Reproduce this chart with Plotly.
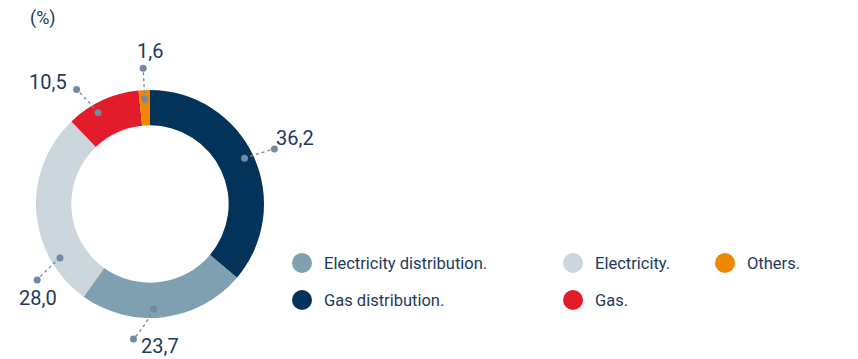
import math
import plotly.graph_objects as go

# ---- data ----
categories = ["Gas distribution.", "Electricity distribution.", "Electricity.", "Gas.", "Others."]
values = [36.2, 23.7, 28.0, 10.5, 1.6]
value_labels = ["36,2", "23,7", "28,0", "10,5", "1,6"]
legend_order = ["Electricity distribution.", "Gas distribution.", "Electricity.", "Gas.", "Others."]

# ---- style ----
colors = {
    "Gas distribution.": "#04335a",
    "Electricity distribution.": "#7fa0b1",
    "Electricity.": "#cbd6dd",
    "Gas.": "#e21c2a",
    "Others.": "#ef8700",
}
W, H = 858, 359
CX, CY, R = 150, 204, 114
HOLE = 0.69
TEXT = "#1d3a5c"
LEADER = "#7189a2"
# angular tweak (deg) of leader per slice, radius inner/outer, text offsets from outer dot
ang_off = [-1, 5, -27, -5, 0]
ang_off2 = [1, 14, -30, -8, 0]
r_in, r_out = 105, 136
text_off = [(21, -11), (27, 7), (1, 18), (-29, -8), (7, -17)]

fig = go.Figure()

fig.add_trace(go.Pie(
    labels=categories, values=values, sort=False, direction="clockwise", rotation=0,
    hole=HOLE, textinfo="none", hoverinfo="label+value", showlegend=False,
    marker=dict(colors=[colors[c] for c in categories], line=dict(width=0)),
    domain=dict(x=[(CX - R) / W, (CX + R) / W], y=[1 - (CY + R) / H, 1 - (CY - R) / H]),
))

total = sum(values)
cum = 0
DOT = 3.5
for i, v in enumerate(values):
    mid = (cum + v / 2) / total * 360
    cum += v
    a1 = math.radians(mid + ang_off[i])
    a2 = math.radians(mid + ang_off2[i])
    pts = []
    n = 12
    for k in range(n + 1):
        t = k / n
        r = r_in + (r_out - r_in) * t
        a = a1 + (a2 - a1) * t
        pts.append((CX + r * math.sin(a), CY - r * math.cos(a)))
    path = "M " + " L ".join(f"{x:.2f},{y:.2f}" for x, y in pts)
    fig.add_shape(type="path", path=path, xref="x", yref="y", layer="above",
                  line=dict(color=LEADER, width=1.3, dash="dot"))
    for (px, py) in (pts[0], pts[-1]):
        fig.add_shape(type="circle", xref="x", yref="y", layer="above",
                      x0=px - DOT, x1=px + DOT, y0=py - DOT, y1=py + DOT,
                      fillcolor=LEADER, line=dict(width=0))
    fig.add_annotation(x=pts[-1][0] + text_off[i][0], y=pts[-1][1] + text_off[i][1], text=value_labels[i],
                       showarrow=False, xanchor="center", yanchor="middle",
                       font=dict(family="Roboto", size=20, color=TEXT))

# custom legend
leg_pos = {
    "Electricity distribution.": (302, 263),
    "Gas distribution.": (302, 300),
    "Electricity.": (573, 263),
    "Gas.": (573, 300),
    "Others.": (725, 263),
}
for name in legend_order:
    lx, ly = leg_pos[name]
    fig.add_trace(go.Scatter(x=[lx], y=[ly], mode="markers",
                             marker=dict(color=colors[name], size=20), hoverinfo="skip", showlegend=False))
    fig.add_annotation(x=lx + 20, y=ly, text=name, showarrow=False, xanchor="left", yanchor="middle",
                       font=dict(family="Roboto", size=16.5, color=TEXT))

fig.add_annotation(x=28, y=18, text="(%)", showarrow=False, xanchor="left", yanchor="middle",
                   font=dict(family="Roboto", size=18, color=TEXT))

fig.update_layout(
    width=W, height=H, margin=dict(l=0, r=0, t=0, b=0),
    paper_bgcolor="white", plot_bgcolor="rgba(0,0,0,0)",
    xaxis=dict(range=[0, W], visible=False, fixedrange=True),
    yaxis=dict(range=[H, 0], visible=False, fixedrange=True),
)

fig.write_html("out.html")
